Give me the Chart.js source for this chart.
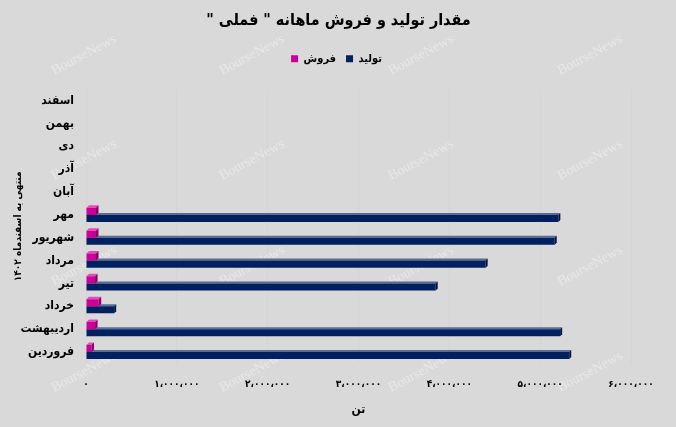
<!DOCTYPE html>
<html><head><meta charset="utf-8">
<script src="https://cdn.jsdelivr.net/npm/chart.js@4.4.1/dist/chart.umd.min.js"></script>
<style>html,body{margin:0;padding:0;background:#d9d9d9;}#wrap{width:676px;height:427px;}</style>
</head><body><div id="wrap"><canvas id="c" width="676" height="427"></canvas></div>
<script>
const months = ['فروردین','اردیبهشت','خرداد','تیر','مرداد','شهریور','مهر','آبان','آذر','دی','بهمن','اسفند'];
const production = [5320000, 5220000, 310000, 3850000, 4400000, 5160000, 5200000, null, null, null, null, null];
const sales = [60000, 100000, 140000, 100000, 110000, 110000, 110000, null, null, null, null, null];
const tickLabels = ['۰','۱،۰۰۰،۰۰۰','۲،۰۰۰،۰۰۰','۳،۰۰۰،۰۰۰','۴،۰۰۰،۰۰۰','۵،۰۰۰،۰۰۰','۶،۰۰۰،۰۰۰'];
const seriesNames = ['فروش','تولید'];
const titleText = '\u200Fمقدار تولید و فروش ماهانه " فملی "\u200F';
const yTitle = 'منتهی به اسفندماه ۱۴۰۲';
const xTitle = 'تن';

const FONTC = '"DejaVu Sans Condensed", "DejaVu Sans", sans-serif';

const bgPlugin = {
  id: 'bg',
  beforeDraw(chart) {
    const ctx = chart.ctx;
    ctx.save();
    ctx.fillStyle = '#d9d9d9';
    ctx.fillRect(0, 0, chart.width, chart.height);
    ctx.font = '14px "Liberation Serif", serif';
    ctx.fillStyle = 'rgba(236,236,236,0.75)';
    ctx.textAlign = 'center';
    ctx.textBaseline = 'middle';
    const xs = [84, 252, 421, 590], ys = [55, 160, 266, 372];
    ys.forEach(y => xs.forEach(x => {
      ctx.save(); ctx.translate(x, y); ctx.rotate(-28 * Math.PI / 180);
      ctx.fillText('BourseNews', 0, 0); ctx.restore();
    }));
    ctx.restore();
  }
};

const faces = {
  0: {d: 2.5, top: '#e24cb8', side: '#8a0068'},
  1: {d: 2, top: '#5d6a92', side: '#00133d'}
};
const threeD = {
  id: 'threeD',
  beforeDatasetsDraw(chart) {
    const ctx = chart.ctx;
    ctx.save();
    [1, 0].forEach(di => {
      const meta = chart.getDatasetMeta(di);
      const f = faces[di];
      meta.data.forEach((el, i) => {
        if (chart.data.datasets[di].data[i] == null) return;
        const p = el.getProps(['x', 'y', 'base', 'height'], true);
        const top = p.y - p.height / 2, bot = p.y + p.height / 2;
        const d = f.d;
        ctx.fillStyle = f.top;
        ctx.beginPath();
        ctx.moveTo(p.base, top); ctx.lineTo(p.x, top); ctx.lineTo(p.x + d, top - d); ctx.lineTo(p.base + d, top - d);
        ctx.closePath(); ctx.fill();
        ctx.fillStyle = f.side;
        ctx.beginPath();
        ctx.moveTo(p.x, top); ctx.lineTo(p.x + d, top - d); ctx.lineTo(p.x + d, bot - d); ctx.lineTo(p.x, bot);
        ctx.closePath(); ctx.fill();
      });
    });
    ctx.restore();
  }
};

const shiftBlocks = {
  id: 'shiftBlocks',
  beforeInit(chart) {
    const lg = chart.legend;
    const fit = lg.fit;
    lg.fit = function () { fit.bind(this)(); this.height += 15; };
    const draw = lg.draw;
    lg.draw = function () {
      const ctx = this.ctx; ctx.save(); ctx.translate(21, 0); draw.bind(this)(); ctx.restore();
    };
    const tb = chart.titleBlock;
    const tdraw = tb.draw;
    tb.draw = function () {
      const ctx = this.ctx; ctx.save(); ctx.translate(23, 0); tdraw.bind(this)(); ctx.restore();
    };
  }
};

new Chart(document.getElementById('c'), {
  type: 'bar',
  data: {
    labels: months,
    datasets: [
      {label: seriesNames[0], data: sales, backgroundColor: '#cc0099', categoryPercentage: 0.62, barPercentage: 1.0},
      {label: seriesNames[1], data: production, backgroundColor: '#002060', categoryPercentage: 0.62, barPercentage: 1.0}
    ]
  },
  plugins: [bgPlugin, threeD, shiftBlocks],
  options: {
    indexAxis: 'y',
    responsive: false,
    animation: false,
    devicePixelRatio: 1,
    layout: {padding: {left: 0, right: 45, top: 0, bottom: 0}},
    plugins: {
      title: {display: true, text: titleText, color: '#000', font: {family: FONTC, size: 16, weight: 'bold'}, padding: {top: 11.5, bottom: 12.5}},
      legend: {display: true, position: 'top',
        labels: {color: '#000', boxWidth: 7, boxHeight: 7, padding: 10, font: {family: FONTC, size: 11, weight: 'bold'}}},
      tooltip: {enabled: false}
    },
    scales: {
      x: {
        min: 0, max: 6000000,
        ticks: {stepSize: 1000000, color: '#000', padding: 14.6, maxRotation: 0,
          font: {family: FONTC, size: 10, weight: 'bold'},
          callback: (v) => tickLabels[Math.round(v / 1000000)]},
        grid: {color: 'rgba(0,0,0,0.018)', drawTicks: false},
        border: {display: false},
        title: {display: true, text: xTitle, color: '#000', font: {family: FONTC, size: 12, weight: 'bold'}, padding: {top: 4, bottom: 10}},
        afterFit: (s) => { s.height = 63.6; }
      },
      y: {
        reverse: true,
        ticks: {color: '#000', padding: 12, font: {family: FONTC, size: 12, weight: 'bold'}},
        grid: {display: false, drawTicks: false},
        border: {display: false},
        title: {display: true, text: yTitle, color: '#000', font: {family: FONTC, size: 10, weight: 'bold'}, padding: {top: 12, bottom: 0}},
        afterFit: (s) => { s.width = 86; }
      }
    }
  }
});
</script>
</body></html>
